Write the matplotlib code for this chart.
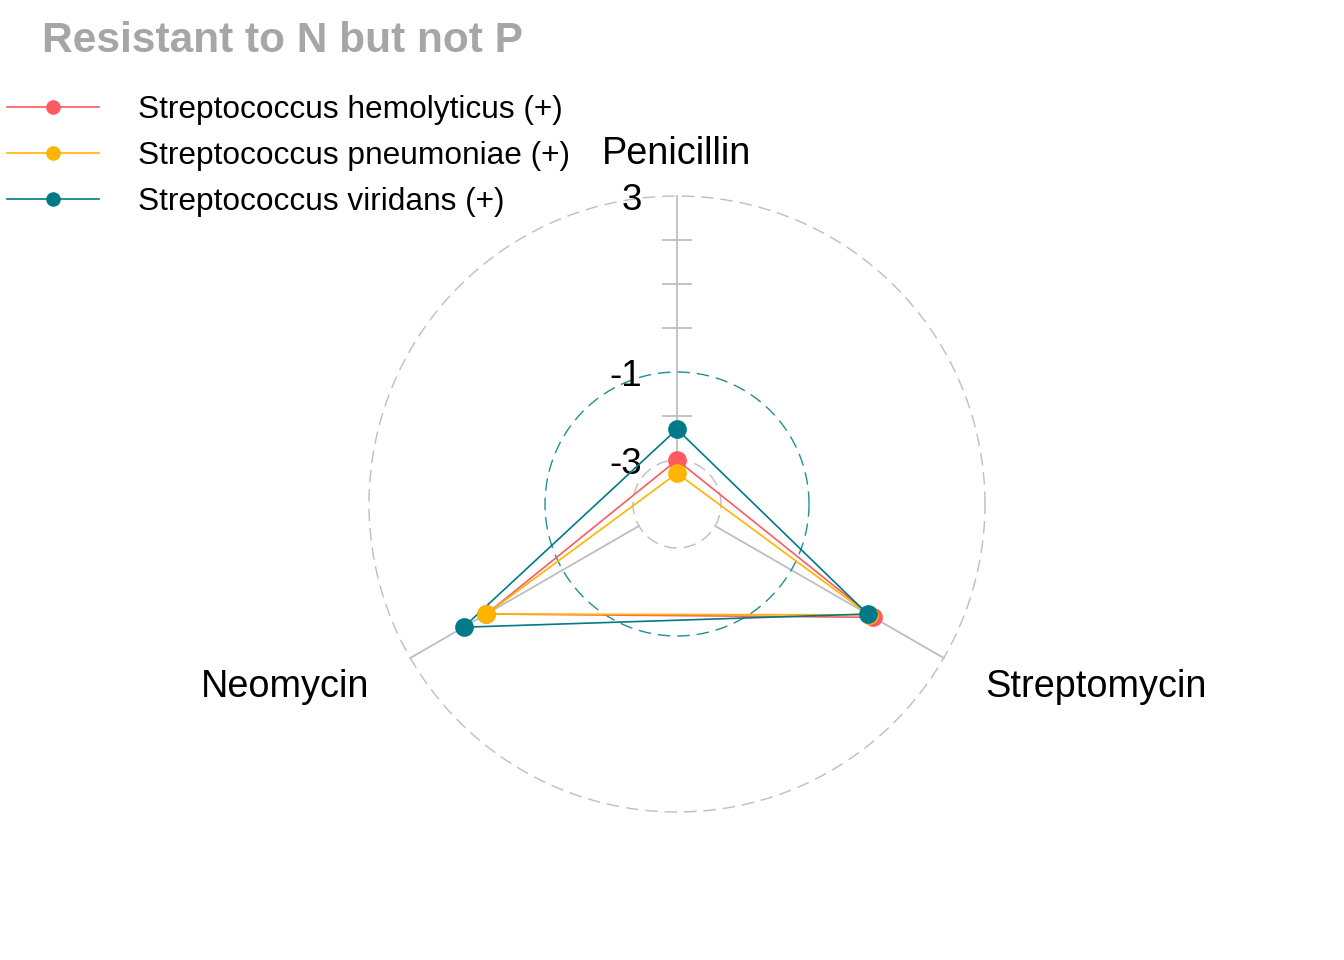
import numpy as np
import matplotlib
matplotlib.use('Agg')
import matplotlib.pyplot as plt
from matplotlib.lines import Line2D

plt.rcParams['font.family'] = ['Liberation Sans', 'DejaVu Sans']

# Datos (log10 MIC)
axes_names = ['Penicillin', 'Streptomycin', 'Neomycin']
series_names = ['Streptococcus hemolyticus (+)',
                'Streptococcus pneumoniae (+)',
                'Streptococcus viridans (+)']
hemolyticus = [-3.0, 1.15, 1.0]
pneumoniae = [-3.3, 1.04, 1.0]
viridans = [-2.3, 1.0, 1.6]
series_colors = ['#FF5A5F', '#FFB400', '#007A87']

grid_min, grid_mid, grid_max = -3, -1, 3
centre = -4.0  # valor en el centro del radar

title = 'Resistant to N but not P'

# Figura: ejes a pantalla completa, 44 px por unidad
W, H = 1344, 960
px = 44.0
cx, cy = 677, 504
fig = plt.figure(figsize=(W / 100, H / 100), dpi=100)
ax = fig.add_axes([0, 0, 1, 1])
ax.set_xlim(-cx / px, (W - cx) / px)
ax.set_ylim(-(H - cy) / px, cy / px)
ax.axis('off')

angles = np.pi / 2 - np.arange(len(axes_names)) * 2 * np.pi / len(axes_names)


def rad(v):
    return np.asarray(v) - centre


# Circulos de la grilla
t = np.linspace(0, 2 * np.pi, 400)
for val, col in [(grid_min, '#BEBEBE'), (grid_mid, '#1F8E96'), (grid_max, '#BEBEBE')]:
    r = rad(val)
    ax.plot(r * np.cos(t), r * np.sin(t), color=col, lw=1.0,
            linestyle=(0, (9, 5)), zorder=2)

# Lineas de los ejes
for a in angles:
    r0, r1 = rad(grid_min), rad(grid_max)
    ax.plot([r0 * np.cos(a), r1 * np.cos(a)], [r0 * np.sin(a), r1 * np.sin(a)],
            color='#BEBEBE', lw=1.3, zorder=1)

# Marcas sobre el eje vertical
for v in [2, 1, 0, -2]:
    ax.plot([-0.31, 0.31], [rad(v), rad(v)], color='#BEBEBE', lw=1.3, zorder=1)

# Etiquetas de la grilla
for v in [grid_max, grid_mid, grid_min]:
    ax.text(-0.8, rad(v) - 0.1, str(v), ha='right', va='center', fontsize=26.5, color='black')

# Etiquetas de los ejes
ax.text(0, 7.95, axes_names[0], ha='center', va='center', fontsize=27.3)
ax.text(7.0, -4.17, axes_names[1], ha='left', va='center', fontsize=27.3)
ax.text(-7.0, -4.17, axes_names[2], ha='right', va='center', fontsize=27.3)

# Series
handles = []
for name, vals, col in zip(series_names, [hemolyticus, pneumoniae, viridans], series_colors):
    r = rad(vals)
    xs = np.append(r * np.cos(angles), r[0] * np.cos(angles[0]))
    ys = np.append(r * np.sin(angles), r[0] * np.sin(angles[0]))
    ax.plot(xs, ys, color=col, lw=1.2, zorder=4)
    ax.plot(r * np.cos(angles), r * np.sin(angles), 'o', color=col, ms=13.5,
            mec='none', zorder=5)
    handles.append(Line2D([], [], color=col, lw=1.2, marker='o', ms=10.5, mec='none'))

fig.legend(handles, series_names, loc='upper left', bbox_to_anchor=(7 / W, 1 - 95 / H),
           frameon=False, fontsize=22.8, handlelength=2.9, handletextpad=1.25,
           labelspacing=0.5, borderpad=0, borderaxespad=0)

fig.text(42 / W, 1 - 41 / H, title, ha='left', va='center', fontsize=30.5,
         fontweight='bold', color='#A6A6A6')

plt.savefig('out.png', dpi=100, facecolor='white')
plt.close()
